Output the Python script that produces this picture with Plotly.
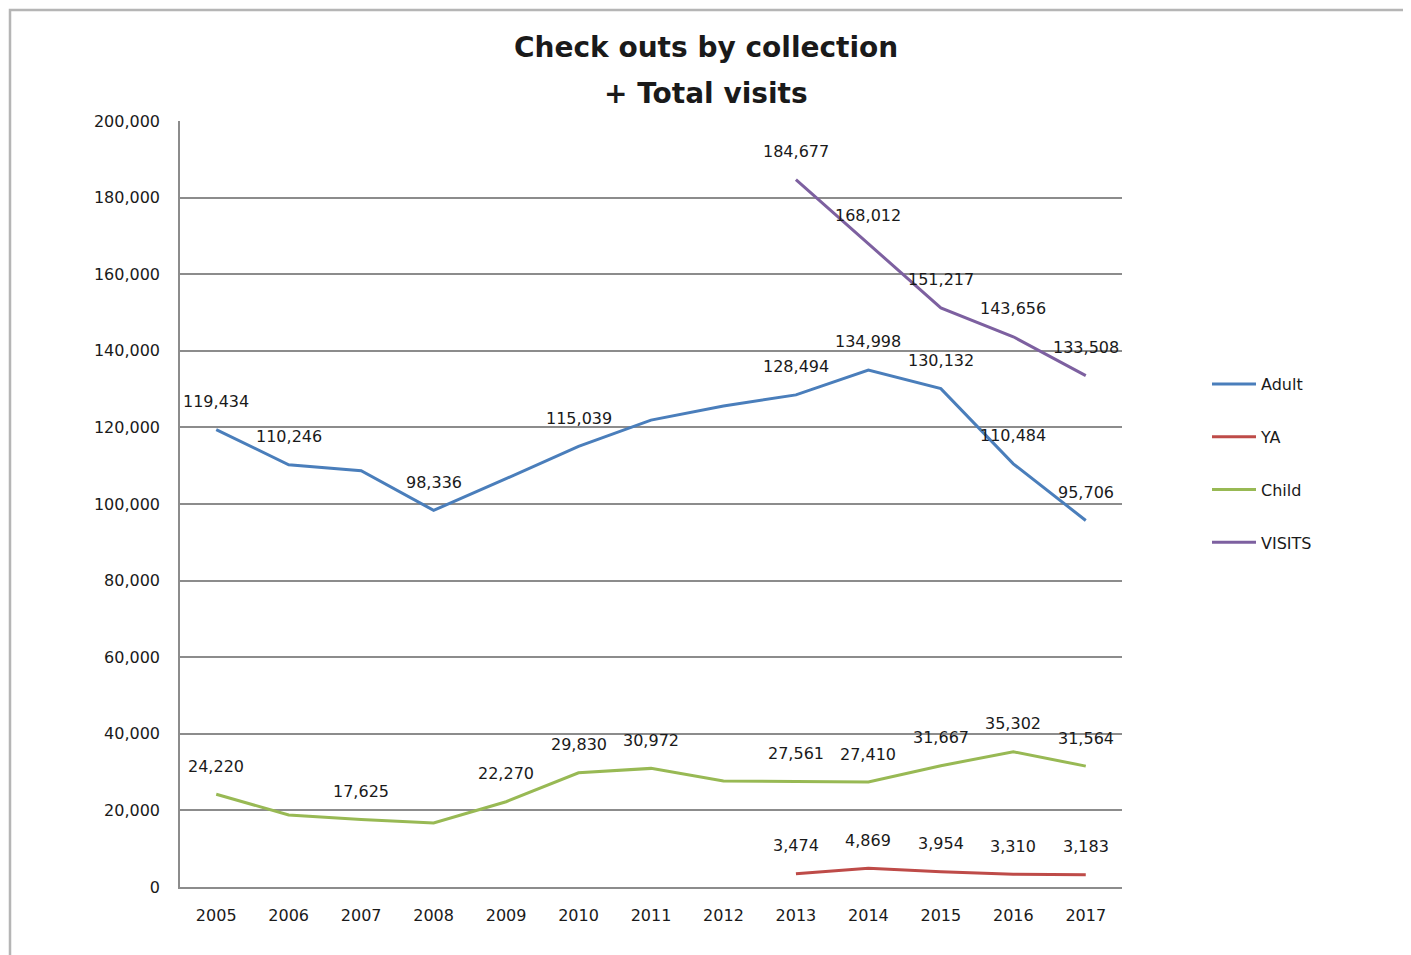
import plotly.graph_objects as go

years = ["2005", "2006", "2007", "2008", "2009", "2010", "2011",
         "2012", "2013", "2014", "2015", "2016", "2017"]

adult = [119434, 110246, 108700, 98336, 106600, 115039, 121900,
         125600, 128494, 134998, 130132, 110484, 95706]
ya = [None, None, None, None, None, None, None, None,
      3474, 4869, 3954, 3310, 3183]
child = [24220, 18800, 17625, 16700, 22270, 29830, 30972,
         27700, 27561, 27410, 31667, 35302, 31564]
visits = [None, None, None, None, None, None, None, None,
          184677, 168012, 151217, 143656, 133508]

adult_labeled = ["2005", "2006", "2008", "2010", "2013", "2014", "2015", "2016", "2017"]
ya_labeled = ["2013", "2014", "2015", "2016", "2017"]
child_labeled = ["2005", "2007", "2009", "2010", "2011", "2013", "2014", "2015", "2016", "2017"]
visits_labeled = ["2013", "2014", "2015", "2016", "2017"]

y_ticks = [0, 20000, 40000, 60000, 80000, 100000, 120000, 140000, 160000, 180000, 200000]

series = [
    ("Adult", adult, "#4A7EBB", adult_labeled),
    ("YA", ya, "#BE4B48", ya_labeled),
    ("Child", child, "#98B954", child_labeled),
    ("VISITS", visits, "#7D60A0", visits_labeled),
]

FONT = "DejaVu Sans"
TXT = "#1a1a1a"

# page body has an 8px margin; positions below are screen pixels minus that offset
OFF = 8
W, H = 1411 - OFF, 955 - OFF
L, R, T, B = 180 - OFF, 1411 - 1122, 121 - OFF, 955 - 887
pw, ph = W - L - R, H - T - B


def px(x):
    return (x - OFF - L) / pw


def py(y):
    return (H - B - (y - OFF)) / ph


fig = go.Figure()
annotations = []
for name, vals, color, labeled in series:
    fig.add_trace(go.Scatter(
        x=years, y=vals, name=name, mode="lines",
        line=dict(color=color, width=3),
        legendgroup=name,
    ))
    for i, (yr, v) in enumerate(zip(years, vals)):
        if v is not None and yr in labeled:
            annotations.append(dict(
                x=i, y=v, xref="x", yref="y", text=f"{v:,}",
                showarrow=False, yshift=28, xanchor="center", yanchor="middle",
                font=dict(family=FONT, size=16, color=TXT),
            ))

annotations.append(dict(
    x=px(706), y=py(47), xref="paper", yref="paper", text="<b>Check outs by collection</b>",
    showarrow=False, xanchor="center", yanchor="middle",
    font=dict(family=FONT, size=28, color=TXT),
))
annotations.append(dict(
    x=px(706), y=py(93), xref="paper", yref="paper", text="<b>+ Total visits</b>",
    showarrow=False, xanchor="center", yanchor="middle",
    font=dict(family=FONT, size=28, color=TXT),
))

fig.update_layout(
    width=W, height=H,
    margin=dict(l=L, r=R, t=T, b=B, autoexpand=False),
    paper_bgcolor="white", plot_bgcolor="white",
    font=dict(family=FONT, size=16, color=TXT),
    showlegend=True,
    legend=dict(
        x=px(1207), y=py(367), xanchor="left", yanchor="top",
        font=dict(family=FONT, size=16, color=TXT),
        tracegroupgap=29, bgcolor="rgba(0,0,0,0)", itemwidth=44,
    ),
    annotations=annotations,
    shapes=[dict(
        type="rect", xref="paper", yref="paper",
        x0=px(OFF + 2), x1=px(1405), y0=py(975), y1=py(OFF + 2),
        line=dict(color="#B5B5B5", width=2.5), layer="below",
    )],
)

fig.update_xaxes(
    type="category", range=[-0.5, 12.5],
    showgrid=False, showline=True, linecolor="#8C8C8C", linewidth=1.5,
    ticks="", ticklabelstandoff=13,
    tickfont=dict(family=FONT, size=16, color=TXT),
)
fig.update_yaxes(
    range=[0, 200000], tickvals=y_ticks, tickformat=",d",
    showgrid=True, gridcolor="#8C8C8C", gridwidth=1.5,
    showline=True, linecolor="#8C8C8C", linewidth=1.5,
    zeroline=False, ticks="", ticklabelstandoff=15,
    tickfont=dict(family=FONT, size=16, color=TXT),
)

fig.write_html("out.html")
